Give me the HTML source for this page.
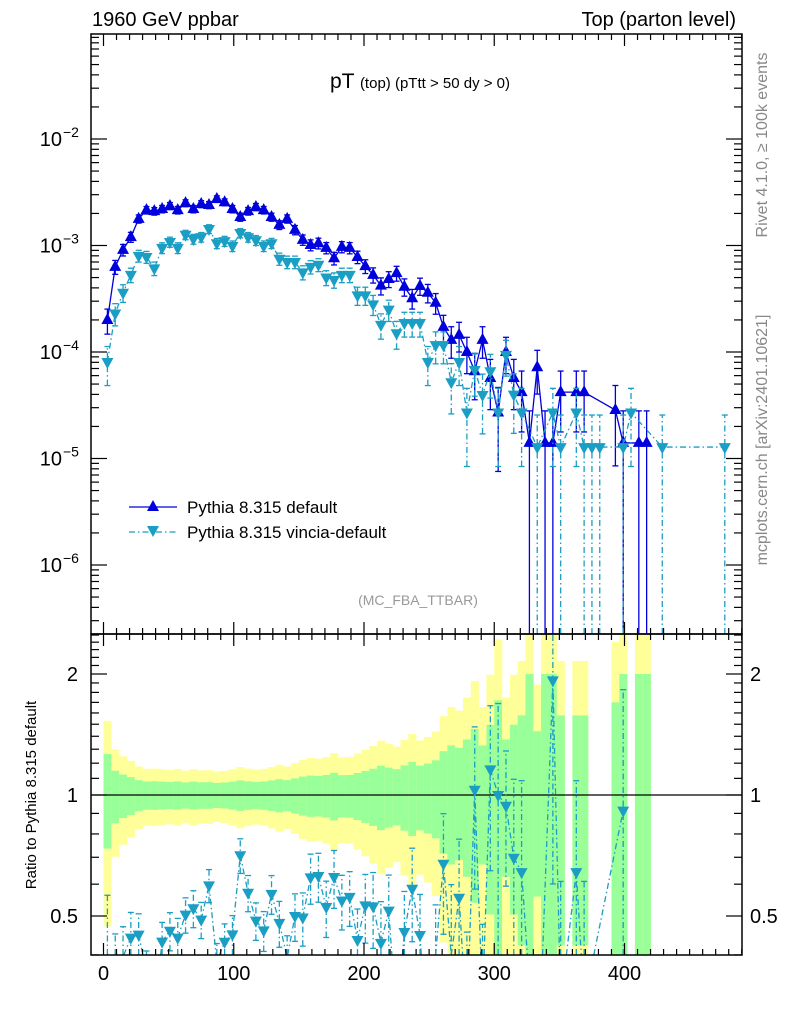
<!DOCTYPE html>
<html><head><meta charset="utf-8">
<style>
html,body{margin:0;padding:0;background:#fff;width:786px;height:1024px;overflow:hidden;}
svg{display:block;font-family:"Liberation Sans",sans-serif;}
</style></head>
<body>
<svg id="chart" width="786" height="1024" viewBox="0 0 786 1024" xmlns="http://www.w3.org/2000/svg">
<defs>
<clipPath id="clipMain"><rect x="91" y="34" width="651" height="600"/></clipPath>
<clipPath id="clipRatio"><rect x="91" y="634" width="651" height="321"/></clipPath>
</defs>
<g id="ratioBands" clip-path="url(#clipRatio)"></g>
<g id="mainMarks" clip-path="url(#clipMain)"></g>
<g id="ratioMarks" clip-path="url(#clipRatio)"></g>
<g id="axes"></g>
<text x="92" y="26" font-size="20">1960 GeV ppbar</text>
<text x="736" y="26" font-size="20" text-anchor="end">Top (parton level)</text>
<text x="420" y="88" font-size="21" text-anchor="middle">pT <tspan font-size="15">(top) (pTtt &gt; 50 dy &gt; 0)</tspan></text>
<text x="418" y="605" font-size="14" fill="#999" text-anchor="middle">(MC_FBA_TTBAR)</text>
<text transform="translate(767,145) rotate(-90)" font-size="16" fill="#888" text-anchor="middle">Rivet 4.1.0, ≥ 100k events</text>
<text transform="translate(767,440) rotate(-90)" font-size="16" fill="#888" text-anchor="middle">mcplots.cern.ch [arXiv:2401.10621]</text>
<text transform="translate(36,795) rotate(-90)" font-size="15" text-anchor="middle">Ratio to Pythia 8.315 default</text>
<g>
<g>
<line x1="129" y1="507" x2="177" y2="507" stroke="#0000dd" stroke-width="1.3"/>
<path d="M153,500 L159,511 L147,511 Z" fill="#0000dd"/>
<text x="187" y="513" font-size="17">Pythia 8.315 default</text>
</g>
<g>
<line x1="129" y1="532" x2="177" y2="532" stroke="#1a9ec4" stroke-width="1.3" stroke-dasharray="6,3,1.5,3"/>
<path d="M147,526 L159,526 L153,537 Z" fill="#1a9ec4"/>
<text x="187" y="538" font-size="17">Pythia 8.315 vincia-default</text>
</g>
</g>
</svg>
<script>
const binWidth = 6;
const defaultVals = [2.0e-4,6.3e-4,9.1e-4,1.2e-3,1.78e-3,2.15e-3,2.1e-3,2.2e-3,2.35e-3,2.15e-3,
2.5e-3,2.2e-3,2.45e-3,2.4e-3,2.73e-3,2.55e-3,2.2e-3,1.85e-3,2.1e-3,2.3e-3,
2.15e-3,1.85e-3,1.56e-3,1.78e-3,1.4e-3,1.13e-3,1.01e-3,1.05e-3,9.5e-4,7.6e-4,
9.7e-4,9.5e-4,7.8e-4,6.4e-4,5.3e-4,4.2e-4,4.85e-4,5.5e-4,4.1e-4,3.2e-4,
4.17e-4,3.6e-4,2.9e-4,1.72e-4,1.3e-4,1.45e-4,1.0e-4,6.6e-5,1.3e-4,5.7e-5,
2.7e-5,1.0e-4,5.7e-5,4.2e-5,1.4e-5,7.2e-5,1.4e-5,1.4e-5,4.2e-5,null,
4.2e-5,4.2e-5,null,null,null,2.85e-5,1.4e-5,null,1.4e-5,1.4e-5];
const vinciaVals = [8.05e-5,2.3e-4,3.6e-4,5.3e-4,8.0e-4,7.8e-4,6.1e-4,9.5e-4,1.08e-3,9.5e-4,
1.26e-3,1.15e-3,1.2e-3,1.43e-3,1.05e-3,1.1e-3,9.9e-4,1.31e-3,1.2e-3,1.12e-3,
9.9e-4,1.05e-3,7.5e-4,7.0e-4,7.0e-4,5.6e-4,6.3e-4,6.6e-4,5.0e-4,4.75e-4,
5.3e-4,5.3e-4,3.4e-4,3.4e-4,2.8e-4,1.8e-4,2.5e-4,1.5e-4,1.87e-4,1.87e-4,
1.87e-4,8.05e-5,1.16e-4,1.16e-4,5.2e-5,8.05e-5,2.7e-5,6.8e-5,3.95e-5,6.6e-5,
2.7e-5,9.4e-5,3.98e-5,2.7e-5,null,1.28e-5,null,2.7e-5,1.28e-5,null,
2.7e-5,1.28e-5,1.28e-5,1.28e-5,null,null,1.28e-5,2.7e-5,null,null,
null,1.28e-5,null,null,null,null,null,null,null,1.28e-5];
const defaultUnitWeight = 1.4e-5;
const vinciaUnitWeight = 1.28e-5;
const xTickLabels = [0,100,200,300,400];
const mainYTickExps = [-6,-5,-4,-3,-2];
const ratioTickLabels = [0.5,1,2];

const NS="http://www.w3.org/2000/svg";
const X = v => 103.5 + v*1.3025;
const YM = v => 139 - (Math.log10(v)+2)*106.5;
const YR = r => 795 - Math.log2(r)*121;
const MAIN_BOT=634, RAT_TOP=634, RAT_BOT=955, LEFT=91, RIGHT=742, TOP=34;
const clampR = y => Math.max(RAT_TOP, Math.min(RAT_BOT, y));
const clampM = y => Math.max(TOP, Math.min(MAIN_BOT, y));
function mk(parent, tag, attrs){const e=document.createElementNS(NS,tag);for(const k in attrs)e.setAttribute(k,attrs[k]);parent.appendChild(e);return e;}
const mainG=document.getElementById('mainMarks'), ratG=document.getElementById('ratioMarks'), bandG=document.getElementById('ratioBands'), axG=document.getElementById('axes');
const cDef="#0000dd", cVin="#1a9ec4", dash="6,3,1.5,3";
const centre = i => (i+0.5)*binWidth;

// clip a segment to a y-range; returns null or [x1,y1,x2,y2]
function clipSeg(x1,y1,x2,y2,lo,hi){
  if((y1<lo&&y2<lo)||(y1>hi&&y2>hi)) return null;
  const at=(y)=>x1+(x2-x1)*(y-y1)/(y2-y1);
  if(y1<lo){x1=at(lo);y1=lo;} else if(y1>hi){x1=at(hi);y1=hi;}
  if(y2<lo){x2=x1+(x2-x1)*0; }
  return [x1,y1,x2,y2];
}
function clipLine(p,q,lo,hi){
  let [x1,y1]=p,[x2,y2]=q;
  if((y1<lo&&y2<lo)||(y1>hi&&y2>hi)) return null;
  const ix=(y)=>p[0]+(q[0]-p[0])*(y-p[1])/(q[1]-p[1]);
  if(y1>hi){x1=ix(hi);y1=hi;} else if(y1<lo){x1=ix(lo);y1=lo;}
  if(y2>hi){x2=ix(hi);y2=hi;} else if(y2<lo){x2=ix(lo);y2=lo;}
  return [x1,y1,x2,y2];
}

defaultVals.forEach((v,i)=>{
  if(v===null) return;
  const e=Math.sqrt(defaultUnitWeight/v);
  const x0=X(i*binWidth), x1=X((i+1)*binWidth);
  const yTop=clampR(YR(1+2*e)), yBot=(1-2*e)>0?clampR(YR(1-2*e)):RAT_BOT;
  let r=mk(bandG,'rect',{x:x0,y:yTop,width:x1-x0+0.3,height:yBot-yTop,fill:'#ffff99'});
  
  
  const gTop=clampR(YR(1+e)), gBot=(1-e)>0?clampR(YR(1-e)):RAT_BOT;
  r=mk(bandG,'rect',{x:x0,y:gTop,width:x1-x0+0.3,height:gBot-gTop,fill:'#99ff99'});
  
  
});
let ln=mk(bandG,'line',{x1:LEFT,x2:RIGHT,y1:YR(1),y2:YR(1),stroke:'#000','stroke-width':1.2});



function tri(g,x,y,up,col){
  const p = up ? `M${x},${y-7} L${x+6},${y+4} L${x-6},${y+4} Z` : `M${x-6},${y-4} L${x+6},${y-4} L${x},${y+7} Z`;
  return mk(g,'path',{d:p,fill:col});
}
function errbar(g,x,yl,yh,col,da,lo,hi){
  const a={stroke:col,'stroke-width':1.3};
  if(da) a['stroke-dasharray']=da;
  mk(g,'line',Object.assign({x1:x,x2:x,y1:yl,y2:yh},a));
  if(yh>lo && yh<hi) mk(g,'line',{x1:x-3,x2:x+3,y1:yh,y2:yh,stroke:col,'stroke-width':1.3});
  if(yl>lo && yl<hi) mk(g,'line',{x1:x-3,x2:x+3,y1:yl,y2:yl,stroke:col,'stroke-width':1.3});
}
function drawMain(vals,w,col,up,da,name){
  const g=mk(mainG,'g',{});
  
  
  const pts=[];
  vals.forEach((v,i)=>{ if(v!==null) pts.push([X(centre(i)),YM(v)]); });
  const pa={points:pts.map(p=>p.join(',')).join(' '),fill:'none',stroke:col,'stroke-width':1.3};
  if(da) pa['stroke-dasharray']=da;
  mk(g,'polyline',pa);
  vals.forEach((v,i)=>{
    if(v===null) return;
    const e=Math.sqrt(v*w);
    const x=X(centre(i));
    errbar(g,x,(v-e)>1e-9?clampM(YM(v-e)):MAIN_BOT,clampM(YM(v+e)),col,da,TOP,MAIN_BOT);
  });
  vals.forEach((v,i)=>{
    if(v===null) return;
    const t=tri(g,X(centre(i)),YM(v),up,col);
    
    
  });
}
drawMain(defaultVals,defaultUnitWeight,cDef,true,null,'series-default');
drawMain(vinciaVals,vinciaUnitWeight,cVin,false,dash,'series-vincia');

(function(){
  const g=mk(ratG,'g',{});
  
  
  const pts=[];
  vinciaVals.forEach((v,i)=>{
    const d=defaultVals[i];
    if(v===null||d===null||d===undefined) return;
    pts.push([X(centre(i)),YR(v/d)]);
  });
  for(let k=1;k<pts.length;k++){
    const s=clipLine(pts[k-1],pts[k],RAT_TOP,RAT_BOT);
    if(!s) continue;
    mk(g,'line',{x1:s[0],y1:s[1],x2:s[2],y2:s[3],stroke:cVin,'stroke-width':1.3,'stroke-dasharray':dash});
  }
  vinciaVals.forEach((v,i)=>{
    const d=defaultVals[i];
    if(v===null||d===null||d===undefined) return;
    const r=v/d, e=r*Math.sqrt(vinciaUnitWeight/v);
    const x=X(centre(i));
    errbar(g,x,(r-e)>1e-3?clampR(YR(r-e)):RAT_BOT,clampR(YR(r+e)),cVin,dash,RAT_TOP,RAT_BOT);
    const yr=YR(r);
    if(yr>RAT_BOT-4 || yr<RAT_TOP+4) return;
    const t=tri(g,x,yr,false,cVin);
    
    
  });
})();

let f=mk(axG,'rect',{x:LEFT,y:TOP,width:RIGHT-LEFT,height:MAIN_BOT-TOP,fill:'none',stroke:'#000','stroke-width':1.5});


f=mk(axG,'rect',{x:LEFT,y:RAT_TOP,width:RIGHT-LEFT,height:RAT_BOT-RAT_TOP,fill:'none',stroke:'#000','stroke-width':1.5});


function tick(x1,y1,x2,y2){mk(axG,'line',{x1,y1,x2,y2,stroke:'#000','stroke-width':1.2});}
for(let v=0;v<=490;v+=10){
  const x=X(v); if(x<LEFT||x>RIGHT) continue;
  const L=(v%100===0)?12:6;
  tick(x,TOP,x,TOP+L); tick(x,MAIN_BOT,x,MAIN_BOT-L);
  tick(x,RAT_TOP,x,RAT_TOP+L); tick(x,RAT_BOT,x,RAT_BOT-L);
}
xTickLabels.forEach(v=>{
  const t=mk(axG,'text',{x:X(v),y:980,'font-size':20,'text-anchor':'middle'});
  t.textContent=v;
  
  
});
for(let ex=-7;ex<=-1;ex++){
  for(let m=1;m<=9;m++){
    const y=YM(m*Math.pow(10,ex)); if(y<TOP||y>MAIN_BOT) continue;
    const L=m===1?16:8;
    tick(LEFT,y,LEFT+L,y); tick(RIGHT,y,RIGHT-L,y);
  }
}
mainYTickExps.forEach(ex=>{
  const t=mk(axG,'text',{x:62,y:YM(Math.pow(10,ex))+7,'font-size':20,'text-anchor':'end'});
  
  
  t.textContent='10';
  const s=document.createElementNS(NS,'tspan');
  s.setAttribute('dy','-9');s.setAttribute('font-size','14');s.setAttribute('x','63');
  s.setAttribute('text-anchor','start');
  s.textContent='\u2212'+(-ex);
  t.appendChild(s);
});
for(let r=0.4;r<=2.55;r+=0.1){
  const rr=Math.round(r*10)/10;
  const y=YR(rr); if(y<RAT_TOP||y>RAT_BOT) continue;
  const L=(rr===0.5||rr===1||rr===2)?16:8;
  tick(LEFT,y,LEFT+L,y); tick(RIGHT,y,RIGHT-L,y);
}
ratioTickLabels.forEach(r=>{
  let t=mk(axG,'text',{x:78,y:YR(r)+7,'font-size':20,'text-anchor':'end'});
  t.textContent=r;
  
  
  t=mk(axG,'text',{x:750,y:YR(r)+7,'font-size':20,'text-anchor':'start'});
  t.textContent=r;
  
  
});
</script>
</body></html>
